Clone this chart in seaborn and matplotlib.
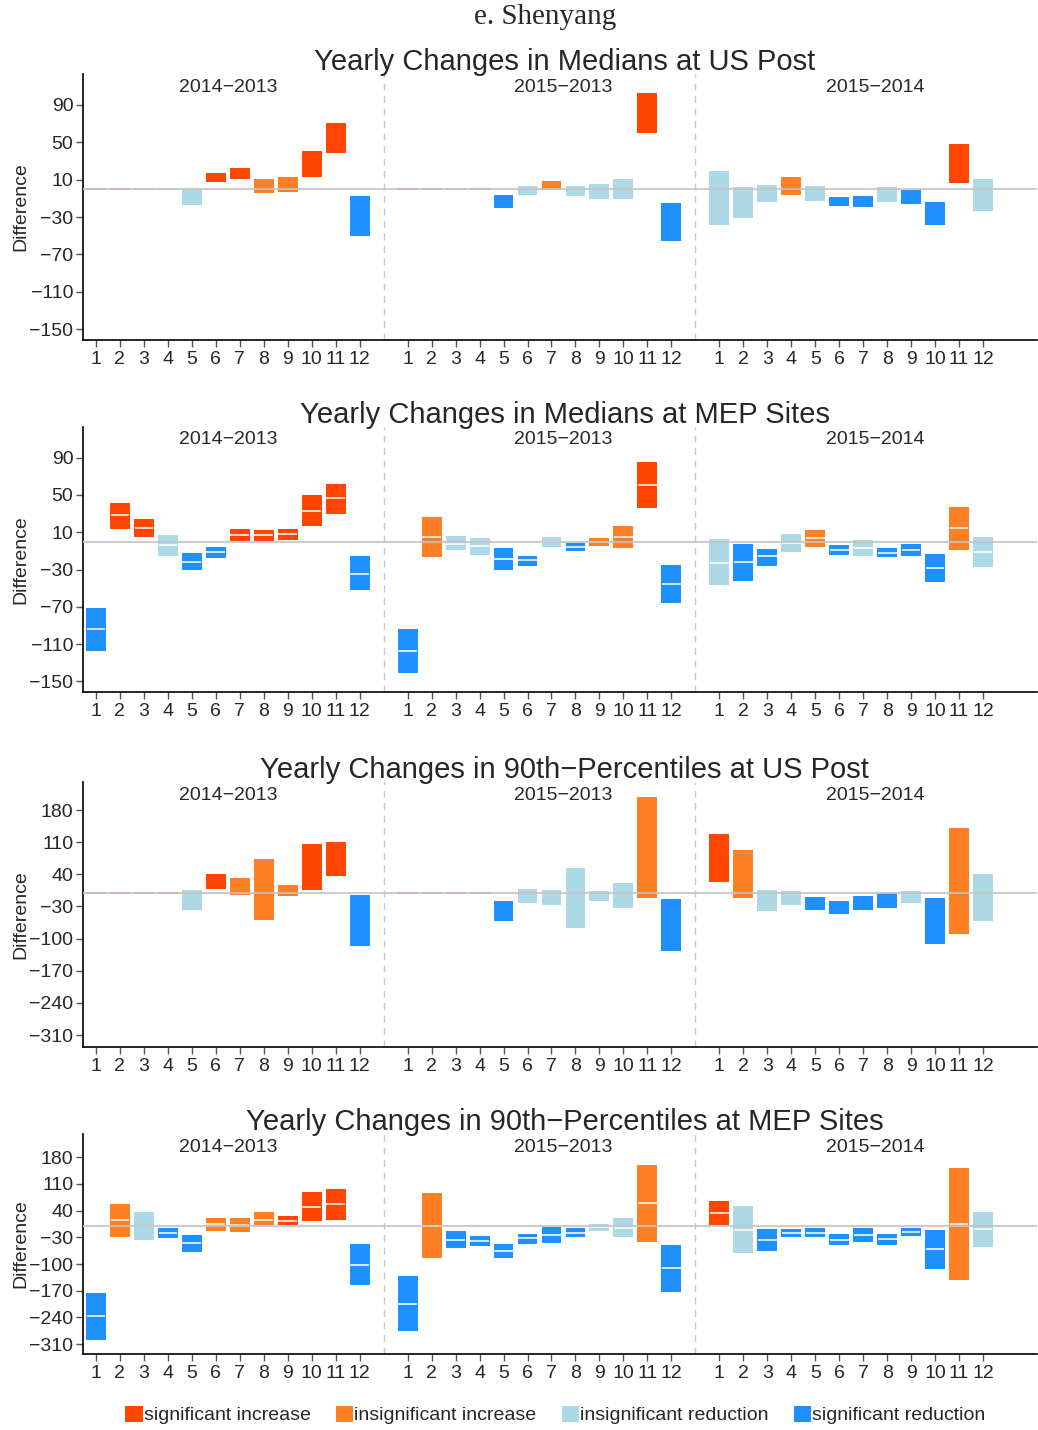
import numpy as np
import pandas as pd
import matplotlib
matplotlib.use("Agg")
import matplotlib.pyplot as plt
import seaborn as sns
from matplotlib.patches import Patch

# categories
months = list(range(1, 13))
periods = ["2014\u22122013", "2015\u22122013", "2015\u22122014"]
class_codes = ["SI", "II", "IR", "SR"]
class_labels = ["significant increase", "insignificant increase",
                "insignificant reduction", "significant reduction"]
class_colors = ["#FF4500", "#FF7F24", "#ADD8E6", "#1E90FF"]

# Medians at US Post (per period: 12 months)
us_med_lo = [0, 0, 0, 0, -17, 7, 11, -4, -3, 13, 39, -50,
             0, 0, 0, 0, -20, -6, -1, -8, -11, -11, 60, -56,
             -38, -31, -14, -6, -12.5, -18, -19, -14, -16, -38, 6, -23]
us_med_hi = [0, 0, 0, 0, 0, 17, 22, 11, 13, 41, 71, -7.5,
             0, 0, 0, 0, -6, 3, 9, 3, 5, 11, 103, -15,
             19, 2, 4, 13, 3, -9, -7.5, 2, -1, -14, 48, 11]
us_med_cls = ["II", "II", "IR", "IR", "IR", "SI", "SI", "II", "II", "SI", "SI", "SR",
              "II", "II", "IR", "II", "SR", "IR", "II", "IR", "IR", "IR", "SI", "SR",
              "IR", "IR", "IR", "II", "IR", "SR", "SR", "IR", "SR", "SR", "SI", "IR"]

# Medians at MEP sites
mep_med_lo = [-117, 13, 5.4, -15, -31, -18, 0.7, 1.1, 2.1, 17, 30, -52.5,
              -141.4, -17.1, -8.6, -13.9, -30, -25.7, -5.4, -9.6, -4.3, -6.4, 36.4, -66.4,
              -47, -41.8, -25.7, -10.7, -5.4, -13.9, -15, -17.1, -15, -42.9, -8.6, -26.8]
mep_med_hi = [-71, 41.4, 24.3, 7.1, -12.1, -5.7, 13.6, 12.5, 13.6, 50, 61.8, -15.4,
              -93.6, 26.4, 6.1, 3.9, -6.8, -15.4, 5, -1.4, 3.9, 16.8, 85.4, -25,
              2.9, -2.5, -7.9, 8.2, 12.5, -3.6, 1.8, -6.8, -2.5, -13.2, 37.1, 5]
mep_med_mid = [-94, 28, 15, -3.6, -21.4, -11.4, 6.8, 6.8, 8.6, 33, 46.4, -34.3,
               -117.5, 4.6, -2.1, -5, -18.2, -20, 0, -5.4, 0, 4.6, 61, -46,
               -22.5, -22, -16, -1.4, 3.6, -8.6, -6.4, -11.8, -8.6, -28, 14.3, -11.4]
mep_med_cls = ["SR", "SI", "SI", "IR", "SR", "SR", "SI", "SI", "SI", "SI", "SI", "SR",
               "SR", "II", "IR", "IR", "SR", "SR", "IR", "SR", "II", "II", "SI", "SR",
               "IR", "SR", "SR", "IR", "II", "SR", "IR", "SR", "SR", "SR", "II", "IR"]

# 90th percentiles at US Post
us_p90_lo = [0, 0, 0, 0, -37.6, 8.7, -4.3, -58.6, -6.5, 6.5, 36.9, -115,
             0, 0, 0, 0, -60.8, -22.4, -26.1, -76, -17.4, -32.6, -10.9, -128,
             23.9, -10.9, -39, -26, -36.9, -45.6, -36.9, -32.6, -22.4, -110.7, -89, -60.8]
us_p90_hi = [0, 0, 0, 0, 5.8, 40.5, 31.8, 73, 16.6, 105.7, 110, -5,
             0, 0, 0, 0, -18.1, 8, 5.8, 53.6, 3.6, 21, 207.7, -13.8,
             127.4, 92.6, 5.8, 3.6, -9.4, -18.1, -7.2, -0.7, 3.6, -11.6, 140.4, 40.5]
us_p90_cls = ["II", "II", "II", "II", "IR", "SI", "II", "II", "II", "SI", "SI", "SR",
              "II", "II", "II", "II", "SR", "IR", "IR", "IR", "IR", "IR", "II", "SR",
              "SI", "II", "IR", "IR", "SR", "SR", "SR", "SR", "IR", "SR", "II", "IR"]

# 90th percentiles at MEP sites
mep_p90_lo = [-300, -28.7, -36.6, -31.3, -67.9, -13.1, -15.7, 1.7, 2.6, 12.2, 15.7, -154,
              -276.8, -83.6, -57.4, -52.2, -83.6, -47, -44.4, -28.7, -13.1, -28.7, -41.8, -172.3,
              2.6, -70.5, -65.3, -28.7, -28.7, -49.6, -41.8, -49.6, -26.1, -112.3, -141, -54.8]
mep_p90_hi = [-175.8, 56.6, 35.7, -6.1, -24.4, 20, 20, 35.7, 25.2, 87.9, 95.7, -47.9,
              -131.4, 85.3, -13.9, -27, -47.9, -21.8, -3.5, -6.1, 4.4, 20, 161, -50.5,
              64.4, 51.3, -8.7, -8.7, -6.1, -21.8, -6.1, -21.8, -6.1, -11.3, 150.6, 35.7]
mep_p90_mid = [-237.6, 15.7, 0, -19, -46, 4.4, 1.7, 16.5, 13, 50.5, 57.4, -101.8,
               -203.7, 0, -36.6, -39.2, -65.3, -33, -23.5, -17.4, -3.5, -5.2, 61, -111.4,
               34.8, -11.3, -35.7, -19, -17.4, -36.6, -24.4, -34.8, -15.7, -61, 5.2, -7.8]
mep_p90_cls = ["SR", "II", "IR", "SR", "SR", "II", "II", "II", "SI", "SI", "SI", "SR",
               "SR", "II", "SR", "SR", "SR", "SR", "SR", "SR", "IR", "IR", "II", "SR",
               "SI", "IR", "SR", "SR", "SR", "SR", "SR", "SR", "SR", "SR", "II", "IR"]

titles = ["Yearly Changes in Medians at US Post",
          "Yearly Changes in Medians at MEP Sites",
          "Yearly Changes in 90th\u2212Percentiles at US Post",
          "Yearly Changes in 90th\u2212Percentiles at MEP Sites"]
med_ticks = [90, 50, 10, -30, -70, -110, -150]
p90_ticks = [180, 110, 40, -30, -100, -170, -240, -310]

sns.set_theme(style="ticks")
plt.rcParams["font.family"] = ["Liberation Sans", "DejaVu Sans"]
plt.rcParams["axes.unicode_minus"] = True

W, H = 1038, 1430
fig = plt.figure(figsize=(W / 100, H / 100), dpi=100)

color_map = dict(zip(class_codes, class_colors))
BW = 0.83


def panel(rect, lo, hi, mid, cls, title, yticks, ylim):
    ax = fig.add_axes(rect)
    df = pd.DataFrame({"lo": lo, "hi": hi, "cls": cls})
    df["pos"] = [f * 13 + m for f in range(3) for m in months]
    df["color"] = df["cls"].map(color_map)

    for s in (13, 26):
        ax.axvline(s, color="#c8c8c8", ls=(0, (5, 4)), lw=1, zorder=1)

    ax.bar(df["pos"], df["hi"] - df["lo"], bottom=df["lo"], width=BW,
           color=df["color"], linewidth=0, zorder=2)
    # zero-width changes show up as thin coloured strokes
    flat = df[df["hi"] == df["lo"]]
    ax.hlines(flat["lo"], flat["pos"] - BW / 2, flat["pos"] + BW / 2,
              colors=flat["color"], lw=1.3, zorder=2)
    if mid is not None:
        ax.hlines(mid, df["pos"] - BW * 0.47, df["pos"] + BW * 0.47,
                  colors="white", lw=1.3, alpha=0.85, zorder=3)
    ax.axhline(0, color="#c4c4c4", lw=1.5, alpha=0.85, zorder=4)

    ax.set_xlim(0.46, 40.25)
    ax.set_ylim(*ylim)
    ax.set_xticks(df["pos"])
    ax.set_xticklabels([str(m) for m in months] * 3)
    ax.set_yticks(yticks)
    ax.set_ylabel("Difference", fontsize=14, labelpad=0)
    sns.despine(ax=ax)
    for side in ("left", "bottom"):
        ax.spines[side].set_color("black")
        ax.spines[side].set_linewidth(1.2)
    ax.tick_params(axis="both", length=5, width=1, color="#555555",
                   labelsize=14, pad=2)
    ax.tick_params(axis="x", pad=3)

    for xc, lab in zip([6.5, 20.5, 33.5], periods):
        ax.annotate(lab, xy=(xc, 1), xycoords=("data", "axes fraction"),
                    xytext=(0, -13), textcoords="offset pixels",
                    ha="center", va="center", fontsize=14)
    ax.annotate(title, xy=(0.505, 1), xycoords="axes fraction",
                xytext=(0, 12), textcoords="offset pixels",
                ha="center", va="center", fontsize=21)
    return ax


def rect(top, bottom, left=83, right=1037):
    return [left / W, 1 - bottom / H, (right - left) / W, (bottom - top) / H]


panel(rect(74, 340), us_med_lo, us_med_hi, None, us_med_cls,
      titles[0], med_ticks, (-161.5, 123))
panel(rect(427, 692), mep_med_lo, mep_med_hi, mep_med_mid, mep_med_cls,
      titles[1], med_ticks, (-161.5, 123))
panel(rect(782, 1047), us_p90_lo, us_p90_hi, None, us_p90_cls,
      titles[2], p90_ticks, (-336, 241))
panel(rect(1134, 1354), mep_p90_lo, mep_p90_hi, mep_p90_mid, mep_p90_cls,
      titles[3], p90_ticks, (-336, 241))

handles = [Patch(facecolor=c, edgecolor="none") for c in class_colors]
fig.legend(handles, class_labels, loc="center", bbox_to_anchor=(0.535, 1 - 1415 / H),
           ncol=4, frameon=False, fontsize=14, handlelength=0.9, handleheight=0.9,
           handletextpad=0.05, columnspacing=1.3)

fig.text(545 / W, 1 - 17 / H, "e. Shenyang", ha="center", va="center",
         fontsize=21, family=["Liberation Serif", "DejaVu Serif"])

fig.savefig("out.png", dpi=100)
